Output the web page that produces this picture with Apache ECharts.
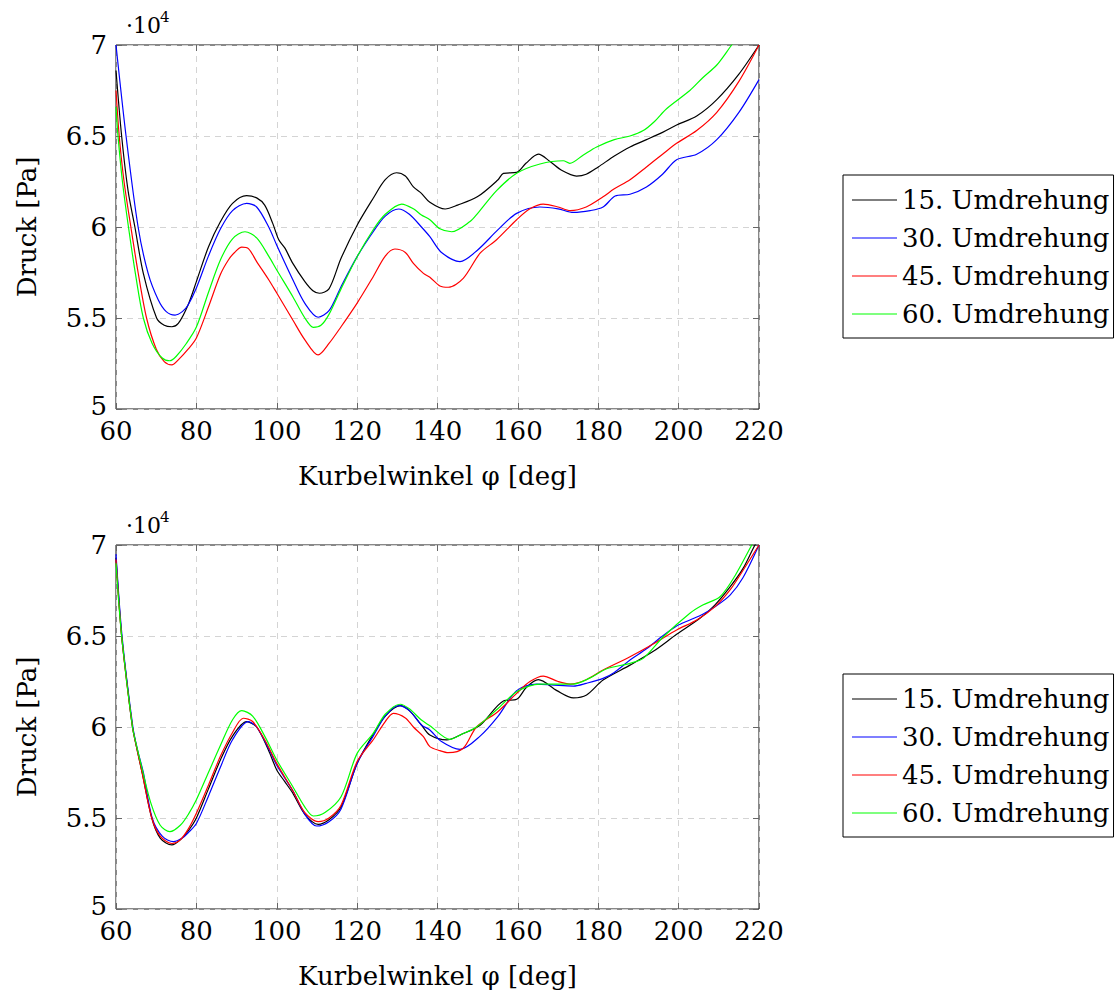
<!DOCTYPE html>
<html>
<head>
<meta charset="utf-8">
<script src="https://cdn.jsdelivr.net/npm/echarts@6/dist/echarts.min.js"></script>
<style>
  html, body { margin: 0; padding: 0; background: #fff; }
  #chart { width: 1117px; height: 994px; }
</style>
</head>
<body>
<div id="chart"></div>
<script>
// Werte in 10^4 Pa, Winkel in Grad
var names = ['15. Umdrehung', '30. Umdrehung', '45. Umdrehung', '60. Umdrehung'];
var colors = ['#000000', '#0000ff', '#ff0000', '#00ff00'];
var xTicks = [60, 80, 100, 120, 140, 160, 180, 200, 220];
var yTicks = [5, 5.5, 6, 6.5, 7];

// oberes Diagramm
var top15 = [[60,6.86],[61.4,6.5],[63,6.2],[64.7,6.0],[66.8,5.745],[70.1,5.5],[72,5.46],[73.9,5.452],[75.5,5.47],[77.9,5.57],[80,5.70],[83,5.89],[86,6.03],[89,6.13],[92.5,6.172],[95,6.16],[97,6.12],[99,6.02],[100.5,5.93],[102,5.885],[104,5.80],[107,5.70],[109,5.65],[110.6,5.636],[113,5.66],[116,5.828],[120,6.01],[124,6.158],[127,6.26],[129.8,6.298],[132,6.28],[134,6.22],[136,6.185],[138.1,6.136],[141.9,6.099],[145,6.12],[150,6.167],[155,6.258],[156.4,6.295],[159.7,6.30],[162,6.35],[165.1,6.40],[168,6.36],[171,6.31],[174.6,6.28],[177,6.29],[180,6.33],[184,6.39],[187.9,6.44],[192,6.48],[196,6.52],[199.5,6.56],[204.5,6.61],[209.5,6.70],[215,6.84],[220,7.0]];
var top30 = [[60,7.0],[62.5,6.5],[65.5,6.0],[68,5.745],[70.5,5.60],[72.5,5.535],[74.7,5.516],[76.5,5.535],[77.9,5.57],[80,5.665],[83,5.84],[86,5.99],[89,6.09],[92.5,6.13],[95,6.11],[98,6.0],[100,5.90],[104,5.71],[107,5.58],[110.3,5.504],[113,5.54],[116,5.672],[120,5.837],[124,5.974],[127,6.06],[130.3,6.099],[133,6.07],[136,6.0],[138.1,5.947],[141,5.86],[145.6,5.81],[150,5.874],[155,5.984],[159.7,6.075],[165.5,6.11],[170,6.10],[173.8,6.08],[178,6.09],[181.2,6.11],[184.2,6.17],[187.9,6.18],[192,6.22],[196,6.29],[199.5,6.37],[204.5,6.40],[209.5,6.48],[215,6.63],[220,6.81]];
var top45 = [[60,6.75],[60.8,6.5],[62,6.25],[63.7,6.0],[65.5,5.75],[67.6,5.5],[70,5.33],[72,5.26],[73.9,5.242],[75.5,5.27],[78,5.33],[80,5.39],[83,5.56],[86,5.74],[88,5.82],[89.5,5.86],[91.3,5.889],[93,5.88],[95,5.81],[98,5.71],[100,5.637],[104,5.489],[107,5.38],[110.3,5.297],[113,5.36],[116,5.452],[120,5.582],[124,5.727],[127,5.84],[129.4,5.879],[132,5.86],[134,5.80],[136.5,5.745],[138.1,5.724],[140.6,5.676],[142.7,5.669],[146.4,5.718],[150.6,5.856],[154.7,5.93],[159.7,6.04],[163,6.10],[166.3,6.126],[170,6.11],[173,6.09],[177,6.11],[181.2,6.166],[184,6.21],[187.9,6.26],[192,6.33],[196,6.40],[199.5,6.46],[204.5,6.53],[209.5,6.63],[215,6.80],[220,7.0]];
var top60 = [[60,6.66],[60.5,6.5],[61.6,6.25],[63.1,6.0],[65,5.72],[66.8,5.5],[69,5.36],[71.5,5.28],[73.4,5.265],[75,5.29],[77.5,5.36],[80,5.45],[83,5.64],[86,5.82],[89,5.935],[92.1,5.974],[95,5.94],[98,5.84],[100,5.764],[104,5.617],[107,5.50],[109.1,5.449],[111,5.46],[113,5.52],[116,5.66],[120,5.837],[124,5.985],[127,6.07],[131.1,6.126],[134,6.10],[136,6.066],[138.1,6.04],[140.6,5.99],[143.5,5.974],[148.1,6.03],[150,6.075],[154.7,6.20],[159.7,6.295],[165.5,6.346],[171.3,6.364],[172.9,6.35],[176.3,6.396],[179.6,6.44],[184,6.48],[187.9,6.50],[191.2,6.53],[194,6.58],[197,6.65],[202.8,6.75],[206,6.82],[209.5,6.89],[213.2,7.0],[216,7.08],[220,7.18]];

// unteres Diagramm
var bot15 = [[60,6.93],[61.4,6.5],[62.7,6.25],[64.1,6.0],[65.3,5.87],[66.5,5.75],[68.9,5.5],[71,5.39],[73.9,5.352],[76,5.38],[78,5.43],[80,5.50],[83,5.66],[86,5.82],[89,5.95],[92.5,6.029],[95,6.0],[98,5.87],[100,5.764],[102,5.70],[104,5.636],[107,5.52],[110.3,5.465],[113,5.49],[116,5.56],[120,5.80],[124,5.96],[127,6.06],[130.7,6.117],[133,6.09],[136,6.011],[138.1,5.956],[142.3,5.929],[146,5.96],[150.6,6.01],[156.4,6.143],[159.7,6.152],[162.2,6.22],[165.1,6.26],[169.7,6.20],[173.8,6.16],[177.1,6.176],[181.2,6.258],[187.9,6.34],[194,6.42],[199.5,6.509],[205.3,6.597],[209,6.67],[212.8,6.77],[216,6.87],[219,7.0],[220,7.03]];
var bot30 = [[60,6.95],[61.5,6.5],[64.2,6.0],[65.4,5.87],[66.8,5.75],[69,5.5],[71.5,5.40],[74.3,5.37],[76.5,5.39],[78,5.42],[80,5.47],[83,5.62],[86,5.78],[89,5.93],[92.9,6.029],[95,6.0],[98,5.88],[100,5.79],[104,5.65],[107,5.52],[109.9,5.456],[113,5.48],[116,5.55],[120,5.80],[124,5.95],[127,6.06],[130.3,6.117],[133,6.09],[136,6.011],[138.1,5.984],[141,5.92],[145.6,5.877],[150.6,5.95],[155,6.057],[159.7,6.20],[164.7,6.236],[169,6.23],[173.8,6.225],[177,6.24],[181.2,6.267],[184,6.30],[187.9,6.368],[192,6.43],[196,6.50],[199.5,6.555],[202.8,6.588],[206,6.62],[209,6.66],[212.8,6.725],[216,6.82],[220,7.0]];
var bot45 = [[60,6.92],[61.4,6.5],[64.1,6.0],[65.3,5.87],[66.5,5.75],[68.9,5.5],[71,5.40],[73.9,5.36],[76,5.38],[78,5.44],[80,5.526],[83,5.68],[86,5.84],[89,5.97],[91.7,6.048],[94,6.03],[97,5.93],[100,5.80],[104,5.65],[107,5.53],[110.3,5.48],[113,5.50],[116,5.57],[120,5.81],[124,5.93],[127,6.03],[129,6.075],[132,6.05],[134,6.00],[136.5,5.947],[138.1,5.892],[140.6,5.87],[142.7,5.859],[146.4,5.883],[149.7,6.00],[155,6.084],[159.7,6.185],[163,6.25],[166.3,6.28],[170,6.25],[173,6.236],[177,6.26],[181.2,6.313],[187.9,6.386],[194,6.46],[199.5,6.533],[204.5,6.588],[209,6.66],[212.8,6.753],[216,6.86],[220,7.0]];
var bot60 = [[60,6.90],[61.4,6.5],[64.1,6.0],[65.3,5.88],[66.5,5.77],[68.7,5.58],[71,5.46],[73.4,5.425],[76,5.46],[78,5.52],[80,5.60],[83,5.75],[86,5.90],[89,6.04],[91.3,6.09],[94,6.06],[97,5.95],[100,5.819],[104,5.672],[107,5.56],[109.1,5.511],[112,5.53],[116,5.617],[120,5.855],[124,5.965],[127,6.07],[130.7,6.125],[133,6.10],[136,6.038],[138.1,6.007],[143.1,5.932],[146,5.96],[149.7,6.00],[155,6.10],[159.7,6.194],[165.5,6.236],[170,6.236],[173.8,6.236],[178,6.27],[182.1,6.32],[187.9,6.35],[191.2,6.377],[196.2,6.496],[202.8,6.625],[206,6.67],[210.3,6.716],[214,6.83],[218.2,7.0],[220,7.07]];

var font = 'DejaVu Serif';
var myChart = echarts.init(document.getElementById('chart'), null, {renderer: 'svg'});

var grids = [
    {left: 116, top: 45, width: 643, height: 364, show: true, borderColor: '#111', borderWidth: 1},
    {left: 116, top: 545, width: 643, height: 364, show: true, borderColor: '#111', borderWidth: 1}
];

var tick = {show: true, inside: true, length: 6, lineStyle: {color: '#666', width: 1}};
var gridLine = {show: true, lineStyle: {color: '#d4d4d4', type: [6, 5], width: 1}};

var xAxes = [], yAxes = [];
for (var g = 0; g < 2; g++) {
    xAxes.push({
        type: 'value', gridIndex: g, min: xTicks[0], max: xTicks[xTicks.length - 1],
        interval: xTicks[1] - xTicks[0], position: 'bottom',
        axisLine: {show: false}, axisTick: tick, splitLine: gridLine,
        axisLabel: {fontFamily: font, fontSize: 26, color: '#000', margin: 9},
        name: 'Kurbelwinkel φ [deg]', nameLocation: 'middle', nameGap: 54,
        nameTextStyle: {fontFamily: font, fontSize: 26, color: '#000'}
    });
    xAxes.push({
        type: 'value', gridIndex: g, min: xTicks[0], max: xTicks[xTicks.length - 1],
        interval: xTicks[1] - xTicks[0], position: 'top',
        axisLine: {show: false}, axisTick: tick, splitLine: {show: false},
        axisLabel: {show: false}
    });
    yAxes.push({
        type: 'value', gridIndex: g, min: yTicks[0], max: yTicks[yTicks.length - 1],
        interval: yTicks[1] - yTicks[0], position: 'left',
        axisLine: {show: false}, axisTick: tick, splitLine: gridLine,
        axisLabel: {
            fontFamily: font, fontSize: 26, color: '#000', margin: 9,
            // unterstes Label leicht anheben, damit es nicht auf "60" sitzt
            formatter: function (v) { return v === yTicks[0] ? '{lo|' + v + '}' : String(v); },
            rich: {lo: {fontFamily: font, fontSize: 26, color: '#000', padding: [0, 0, 6, 0]}}
        },
        name: 'Druck [Pa]', nameLocation: 'middle', nameGap: 76,
        nameTextStyle: {fontFamily: font, fontSize: 26, color: '#000'}
    });
    yAxes.push({
        type: 'value', gridIndex: g, min: yTicks[0], max: yTicks[yTicks.length - 1],
        interval: yTicks[1] - yTicks[0], position: 'right',
        axisLine: {show: false}, axisTick: tick, splitLine: {show: false},
        axisLabel: {show: false}
    });
}

var seriesData = [[top15, top30, top45, top60], [bot15, bot30, bot45, bot60]];
var series = [];
for (var g = 0; g < 2; g++) {
    for (var i = 0; i < 4; i++) {
        series.push({
            name: names[i], type: 'line', xAxisIndex: g * 2, yAxisIndex: g * 2,
            data: seriesData[g][i], showSymbol: false, symbol: 'none',
            smooth: 0.3, clip: true,
            itemStyle: {color: colors[i]},
            lineStyle: {color: colors[i], width: 1.2}
        });
    }
}

function legendAt(top) {
    return {
        orient: 'vertical', left: 843, top: top, data: names, icon: 'rect',
        itemWidth: 45, itemHeight: 1, itemGap: 8, selectedMode: false,
        padding: [10, 4, 9, 9], borderColor: '#000', borderWidth: 1,
        textStyle: {fontFamily: font, fontSize: 26, color: '#000', lineHeight: 30}
    };
}

function powerLabel(top) {
    return [
        {type: 'text', left: 126, top: top, style: {text: '·10', font: '22px "DejaVu Serif"', fill: '#000'}},
        {type: 'text', left: 160, top: top - 5, style: {text: '4', font: '15px "DejaVu Serif"', fill: '#000'}}
    ];
}

var option = {
    animation: false,
    backgroundColor: '#fff',
    grid: grids,
    xAxis: xAxes,
    yAxis: yAxes,
    legend: [legendAt(175), legendAt(674)],
    graphic: powerLabel(14).concat(powerLabel(514)),
    series: series
};

myChart.setOption(option);
</script>
</body>
</html>
